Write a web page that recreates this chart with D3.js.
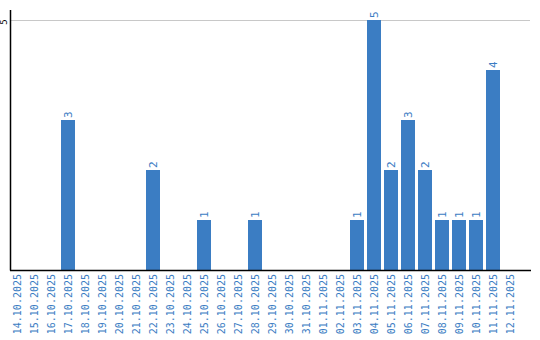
<!DOCTYPE html>
<html>
<head>
<meta charset="utf-8">
<script src="https://cdn.jsdelivr.net/npm/d3@7"></script>
<style>
body { margin: 0; background: #fff; }
</style>
</head>
<body>
<script>
//chart data
var dates = ["14.10.2025","15.10.2025","16.10.2025","17.10.2025","18.10.2025","19.10.2025",
    "20.10.2025","21.10.2025","22.10.2025","23.10.2025","24.10.2025","25.10.2025",
    "26.10.2025","27.10.2025","28.10.2025","29.10.2025","30.10.2025","31.10.2025",
    "01.11.2025","02.11.2025","03.11.2025","04.11.2025","05.11.2025","06.11.2025",
    "07.11.2025","08.11.2025","09.11.2025","10.11.2025","11.11.2025","12.11.2025"];
var counts = [0,0,0,3,0,0, 0,0,2,0,0,1, 0,0,1,0,0,0, 0,0,1,5,2,3, 2,1,1,1,4,0];
var yTicks = [5];

window.onload = drawChart();

function drawChart(){
    var width = 540,
        height = 340,
        blue = "#3b7dc3",
        font = "DejaVu Sans Mono, monospace";

    var svg = d3.select("body")
        .append("svg")
        .attr("width", width)
        .attr("height", height);

    //band scale, 17px step, 14px bars
    var x = d3.scaleBand()
        .domain(dates)
        .range([10, 517])
        .paddingInner(3 / 17)
        .paddingOuter(0);

    var y = d3.scaleLinear()
        .domain([0, 5])
        .range([270, 20]);

    //grid lines
    svg.selectAll(".grid")
        .data(yTicks)
        .enter()
        .append("line")
        .attr("class", "grid")
        .attr("x1", 10)
        .attr("x2", 530)
        .attr("y1", function(d){ return y(d) + 0.5; })
        .attr("y2", function(d){ return y(d) + 0.5; })
        .attr("stroke", "#c8c8c8")
        .attr("stroke-width", 1);

    //bars
    var data = dates.map(function(d, i){ return {date: d, value: counts[i]}; });
    var shown = data.filter(function(d){ return d.value > 0; });

    svg.selectAll(".bar")
        .data(shown)
        .enter()
        .append("rect")
        .attr("class", "bar")
        .attr("x", function(d){ return x(d.date); })
        .attr("width", x.bandwidth())
        .attr("y", function(d){ return y(d.value); })
        .attr("height", function(d){ return y(0) - y(d.value); })
        .attr("fill", blue);

    //value labels on top of bars
    svg.selectAll(".val")
        .data(shown)
        .enter()
        .append("text")
        .attr("class", "val")
        .attr("transform", function(d){
            return "translate(" + (x(d.date) + x.bandwidth() / 2) + "," + (y(d.value) - 2) + ") rotate(-90)";
        })
        .attr("dy", "0.35em")
        .attr("text-anchor", "start")
        .attr("font-family", font)
        .attr("font-size", "11px")
        .attr("fill", blue)
        .text(function(d){ return d.value; });

    //x axis labels
    svg.selectAll(".xlab")
        .data(dates)
        .enter()
        .append("text")
        .attr("class", "xlab")
        .attr("transform", function(d){
            return "translate(" + (x(d) + x.bandwidth() / 2) + ",274) rotate(-90)";
        })
        .attr("dy", "0.35em")
        .attr("text-anchor", "end")
        .attr("font-family", font)
        .attr("font-size", "10px")
        .attr("fill", blue)
        .text(function(d){ return d; });

    //y tick label
    svg.selectAll(".ylab")
        .data(yTicks)
        .enter()
        .append("text")
        .attr("class", "ylab")
        .attr("transform", function(d){ return "translate(7," + (y(d) + 2) + ") rotate(-90)"; })
        .attr("text-anchor", "middle")
        .attr("font-family", font)
        .attr("font-size", "9px")
        .attr("fill", "#000")
        .text(function(d){ return d; });

    //axis lines
    svg.append("line")
        .attr("x1", 10.5).attr("x2", 10.5)
        .attr("y1", 10).attr("y2", 270.5)
        .attr("stroke", "#000").attr("stroke-width", 1.5);

    svg.append("line")
        .attr("x1", 10).attr("x2", 531)
        .attr("y1", 270.5).attr("y2", 270.5)
        .attr("stroke", "#000").attr("stroke-width", 1.5);
};
</script>
</body>
</html>
